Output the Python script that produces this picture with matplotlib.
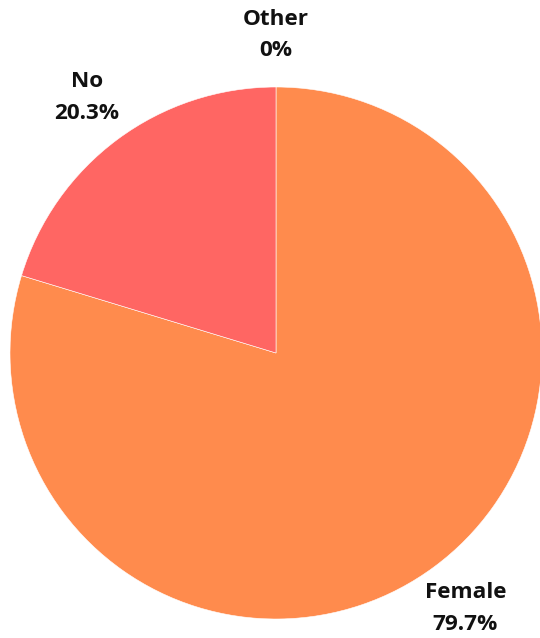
import matplotlib
matplotlib.use("Agg")
import matplotlib.pyplot as plt

# slice data, drawn clockwise from 12 o'clock
labels = ["Other", "Female", "No"]
values = [0.0, 79.7, 20.3]
pct_labels = ["0%", "79.7%", "20.3%"]
colors = ["#9b9b9b", "#FF8B4D", "#FF6663"]

W, H = 540, 638
CX, CY, R = 276, 353, 266

fig = plt.figure(figsize=(W / 100, H / 100), dpi=100)
ax = fig.add_axes([0, 0, 1, 1])

texts = [f"{name}\n{pct}" for name, pct in zip(labels, pct_labels)]
wedges, label_texts = ax.pie(
    values,
    labels=texts,
    colors=colors,
    startangle=90,
    counterclock=False,
    labeldistance=1.195,
    radius=1.0,
    wedgeprops=dict(linewidth=0.4, edgecolor="white"),
    textprops=dict(fontsize=16.2, fontweight="bold", family="Open Sans", color="#111111"),
)
for t in label_texts:
    t.set_ha("center")
    t.set_va("center")
    t.set_linespacing(1.65)
    t.set_clip_on(False)

ax.set_xlim(-CX / R, (W - CX) / R)
ax.set_ylim(-(H - CY) / R, CY / R)
ax.set_aspect("equal")
ax.axis("off")

fig.savefig("out.png", dpi=100)
